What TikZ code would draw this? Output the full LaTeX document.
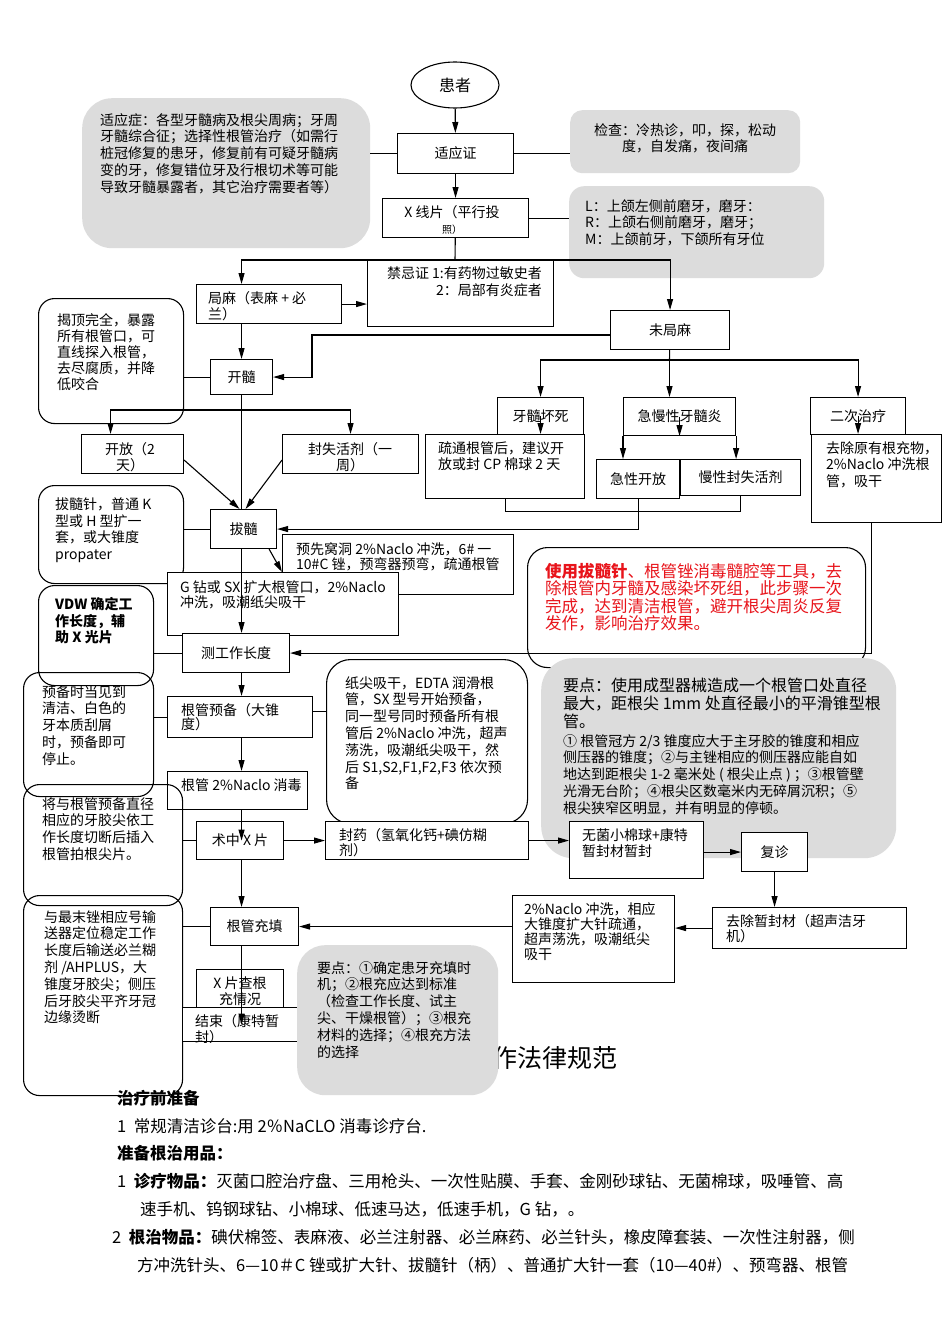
\documentclass[tikz,border=0pt]{standalone}
\usepackage{fontspec}
\setmainfont{Noto Sans CJK SC}
\usepackage{tikz}
\usetikzlibrary{arrows.meta,shapes.geometric,calc}
\definecolor{lgray}{HTML}{DCDCDC}
\definecolor{rtext}{HTML}{E8141B}
\tikzset{
 fbox/.style={draw=black,line width=1.1pt,fill=white,inner sep=0pt,anchor=north west,
   font=\fontsize{14}{16.8}\selectfont},
 rbox/.style={draw=black,line width=1.1pt,rounded corners=16pt,inner sep=0pt,anchor=north west},
 gbox/.style={fill=lgray,rounded corners=22pt,inner sep=0pt,anchor=north west},
 txt/.style={anchor=north west,align=left,inner sep=0pt,font=\fontsize{14}{16.8}\selectfont},
 arr/.style={-{Triangle[length=11pt,width=6pt]},line width=1.1pt},
 ln/.style={line width=1.1pt}
}
\begin{document}
\begin{tikzpicture}[x=1pt,y=-1pt]
 \fill[white] (0,0) rectangle (950,1344);
 \useasboundingbox (0,0) rectangle (950,1344);
 \node[anchor=west,inner sep=0pt,font=\fontsize{25}{25}\selectfont] (title) at (492,1058) {作法律规范};
 \node[gbox,minimum width=288pt,minimum height=150pt,rounded corners=30pt] (syzl) at (82,98) {};
 \node[txt] (syzl-t) at (100,113) {适应症：各型牙髓病及根尖周病；牙周\\牙髓综合征；选择性根管治疗（如需行\\桩冠修复的患牙，修复前有可疑牙髓病\\变的牙，修复错位牙及行根切术等可能\\导致牙髓暴露者，其它治疗需要者等）};
 \node[gbox,minimum width=230pt,minimum height=63pt,rounded corners=12pt] (jc) at (570,110) {};
 \node[txt,anchor=north,align=center] (jc-t) at (685,123) {检查：冷热诊，叩，探，松动\\度，自发痛，夜间痛};
 \node[gbox,minimum width=255pt,minimum height=92pt,rounded corners=15pt] (lrm) at (569,186) {};
 \node[txt] (lrm-t) at (585,199) {L：上颌左侧前磨牙，磨牙：\\R：上颌右侧前磨牙，磨牙；\\M：上颌前牙，下颌所有牙位};
 \node[draw,ellipse,line width=1.1pt,minimum width=88pt,minimum height=46pt,font=\fontsize{16}{16}\selectfont] (hz) at (455,85) {患者};
 \node[fbox,minimum width=116pt,minimum height=40pt] (syz) at (397,133) {适应证};
 \node[fbox,minimum width=146pt,minimum height=39pt] (xp) at (382,198) {};
 \node[txt,anchor=north,align=center] (xp-t) at (452,205) {X 线片（平行投\\{\fontsize{10}{10}\selectfont 照）}};
 \node[fbox,minimum width=186pt,minimum height=66pt] (jjz) at (367,260) {};
 \node[txt,anchor=north east,align=right] (jjz-t) at (542,267) {禁忌证 1:有药物过敏史者\\2：局部有炎症者};
 \node[fbox,minimum width=145pt,minimum height=39pt] (jm) at (196,284) {};
 \node[txt] (jm-t) at (208,291) {局麻（表麻 + 必\\兰）};
 \node[fbox,minimum width=62pt,minimum height=35pt] (ks) at (210,359) {开髓};
 \node[rbox,minimum width=145pt,minimum height=125pt] (jd) at (38,298) {};
 \node[txt,font=\fontsize{14}{16}\selectfont] (jd-t) at (57,313) {揭顶完全，暴露\\所有根管口，可\\直线探入根管，\\去尽腐质，并降\\低咬合};
 \node[fbox,minimum width=119pt,minimum height=39pt] (wjm) at (610,310) {未局麻};
 \node[fbox,minimum width=86pt,minimum height=37pt] (ysh) at (497,397) {牙髓坏死};
 \node[fbox,minimum width=159pt,minimum height=64pt] (st) at (425,434) {};
 \node[txt] (st-t) at (438,441) {疏通根管后，建议开\\放或封 CP 棉球 2 天};
 \node[fbox,minimum width=112pt,minimum height=38pt] (jmx) at (623,397) {急慢性牙髓炎};
 \node[fbox,minimum width=83pt,minimum height=39pt] (jxkf) at (596,459) {急性开放};
 \node[fbox,minimum width=120pt,minimum height=36pt] (mxfs) at (680,459) {慢性封失活剂};
 \node[fbox,minimum width=95pt,minimum height=37pt] (ecz) at (810,397) {二次治疗};
 \node[fbox,minimum width=130pt,minimum height=88pt] (qc) at (811,434) {};
 \node[txt] (qc-t) at (826,441) {去除原有根充物，\\2\%Naclo 冲洗根\\管，吸干};
 \node[fbox,minimum width=102pt,minimum height=39pt] (kf) at (81,434) {};
 \node[txt,anchor=north,align=center] (kf-t) at (130,442) {开放（2\\天）};
 \node[fbox,minimum width=136pt,minimum height=39pt] (fsh) at (282,434) {};
 \node[txt,anchor=north,align=center] (fsh-t) at (350,442) {封失活剂（一\\周）};
 \node[fbox,minimum width=66pt,minimum height=39pt] (bs) at (210,509) {拔髓};
 \node[rbox,minimum width=145pt,minimum height=98pt] (bsz) at (38,485) {};
 \node[txt,font=\fontsize{14}{16.5}\selectfont] (bsz-t) at (55,498) {拔髓针，普通 K\\型或 H 型扩一\\套，或大锥度\\propater};
 \node[fbox,minimum width=231pt,minimum height=60pt] (yx) at (282,534) {};
 \node[txt,font=\fontsize{14}{15.5}\selectfont] (yx-t) at (296,542) {预先窝洞 2\%Naclo 冲洗，6\# 一\\10\#C 锉，预弯器预弯，疏通根管};
 \node[fbox,minimum width=231pt,minimum height=63pt] (gz) at (167,572) {};
 \node[txt,font=\fontsize{14}{15.5}\selectfont] (gz-t) at (180,580) {G 钻或 SX 扩大根管口，2\%Naclo\\冲洗，吸潮纸尖吸干};
 \node[rbox,minimum width=115pt,minimum height=100pt] (vdw) at (38,585) {};
 \node[txt,font=\fontsize{14}{16.8}\selectfont\bfseries] (vdw-t) at (55,597) {VDW 确定工\\作长度，辅\\助 X 光片};
 \node[fbox,minimum width=107pt,minimum height=39pt] (cd) at (182,633) {测工作长度};
 \node[rbox,minimum width=338pt,minimum height=120pt,rounded corners=20pt] (hs) at (527,547) {};
 \node[txt,font=\fontsize{16.5}{17.4}\selectfont,text=rtext] (hs-t) at (545,563) {\textbf{使用拔髓针}、根管锉消毒髓腔等工具，去\\除根管内牙髓及感染坏死组，此步骤一次\\完成，达到清洁根管，避开根尖周炎反复\\发作，影响治疗效果。};
 \node[gbox,minimum width=355pt,minimum height=200pt,rounded corners=32pt] (yd) at (541,658) {};
 \node[txt,font=\fontsize{16}{18}\selectfont] (yd-t1) at (563,678) {要点：使用成型器械造成一个根管口处直径\\最大，距根尖 1mm 处直径最小的平滑锥型根\\管。};
 \node[txt] (yd-t2) at (563,734) {① 根管冠方 2/3 锥度应大于主牙胶的锥度和相应\\侧压器的锥度；②与主锉相应的侧压器应能自如\\地达到距根尖 1-2 毫米处 ( 根尖止点 ) ；③根管壁\\光滑无台阶；④根尖区数毫米内无碎屑沉积；⑤\\根尖狭窄区明显，并有明显的停顿。};
 \node[rbox,minimum width=130pt,minimum height=124pt] (yb) at (23,672) {};
 \node[txt] (yb-t) at (42,685) {预备时当见到\\清洁、白色的\\牙本质刮屑\\时，预备即可\\停止。};
 \node[fbox,minimum width=145pt,minimum height=41pt] (gy) at (167,696) {};
 \node[txt,font=\fontsize{14}{14.5}\selectfont] (gy-t) at (181,703) {根管预备（大锥\\度）};
 \node[rbox,minimum width=201pt,minimum height=164pt,rounded corners=24pt] (zj) at (326,659) {};
 \node[txt] (zj-t) at (345,676) {纸尖吸干，EDTA 润滑根\\管，SX 型号开始预备，\\同一型号同时预备所有根\\管后 2\%Naclo 冲洗，超声\\荡洗，吸潮纸尖吸干，然\\后 S1,S2,F1,F2,F3 依次预\\备};
 \node[fbox,minimum width=140pt,minimum height=38pt] (xd) at (167,771) {};
 \node[txt,anchor=west] (xd-t) at (181,785) {根管 2\%Naclo 消毒};
 \node[rbox,minimum width=159pt,minimum height=121pt] (jy) at (23,784) {};
 \node[txt] (jy-t) at (42,797) {将与根管预备直径\\相应的牙胶尖依工\\作长度切断后插入\\根管拍根尖片。};
 \node[fbox,minimum width=87pt,minimum height=38pt] (sz) at (196,821) {术中 X 片};
 \node[fbox,minimum width=203pt,minimum height=38pt] (fy) at (325,821) {};
 \node[txt,font=\fontsize{14}{15}\selectfont] (fy-t) at (339,828) {封药（氢氧化钙+碘仿糊\\剂）};
 \node[fbox,minimum width=134pt,minimum height=57pt] (wj) at (569,821) {};
 \node[txt] (wj-t) at (582,828) {无菌小棉球+康特\\暂封材暂封};
 \node[fbox,minimum width=66pt,minimum height=39pt] (fz) at (741,832) {复诊};
 \node[fbox,minimum width=194pt,minimum height=41pt] (qz) at (712,907) {};
 \node[txt,font=\fontsize{14}{15.5}\selectfont] (qz-t) at (726,914) {去除暂封材（超声洁牙\\机）};
 \node[fbox,minimum width=162pt,minimum height=87pt] (nc) at (512,895) {};
 \node[txt,font=\fontsize{14}{15}\selectfont] (nc-t) at (524,902) {2\%Naclo 冲洗，相应\\大锥度扩大针疏通，\\超声荡洗，吸潮纸尖\\吸干};
 \node[fbox,minimum width=88pt,minimum height=38pt] (tc) at (210,907) {根管充填};
 \node[rbox,minimum width=159pt,minimum height=200pt] (yz) at (23,895) {};
 \node[txt] (yz-t) at (44,910) {与最末锉相应号输\\送器定位稳定工作\\长度后输送必兰糊\\剂 /AHPLUS，大\\锥度牙胶尖；侧压\\后牙胶尖平齐牙冠\\边缘烫断};
 \node[fbox,minimum width=87pt,minimum height=43pt] (xc) at (196,969) {};
 \node[txt,anchor=north,align=center,font=\fontsize{14}{15.5}\selectfont] (xc-t) at (240,977) {X 片查根\\充情况};
 \node[fbox,minimum width=140pt,minimum height=34pt] (js) at (182,1007) {};
 \begin{scope}
  \clip (js.north west) rectangle (js.south east);
  \node[txt] (js-t) at (195,1014) {结束（康特暂\\封）};
 \end{scope}
 \node[gbox,minimum width=201pt,minimum height=150pt,rounded corners=28pt] (yd2) at (297,945) {};
 \node[txt] (yd2-t) at (317,961) {要点：①确定患牙充填时\\机；②根充应达到标准\\（检查工作长度、试主\\尖、干燥根管）；③根充\\材料的选择；④根充方法\\的选择};
 \begin{scope}[every node/.style={anchor=west,inner sep=0pt,font=\fontsize{16.5}{16.5}\selectfont}]
  \node (bt1) at (117,1098) {\textbf{治疗前准备}};
  \node (bt2) at (117,1126) {1\ \ 常规清洁诊台:用 2％NaCLO 消毒诊疗台.};
  \node (bt3) at (117,1153) {\textbf{准备根治用品：}};
  \node (bt4) at (117,1181) {1\ \ \textbf{诊疗物品：}灭菌口腔治疗盘、三用枪头、一次性贴膜、手套、金刚砂球钻、无菌棉球，吸唾管、高};
  \node (bt5) at (140,1209) {速手机、钨钢球钻、小棉球、低速马达，低速手机，G 钻，。};
  \node (bt6) at (112,1237) {2\ \ \textbf{根治物品：}碘伏棉签、表麻液、必兰注射器、必兰麻药、必兰针头，橡皮障套装、一次性注射器，侧};
  \node (bt7) at (137,1265) {方冲洗针头、6—10＃C 锉或扩大针、拔髓针（柄）、普通扩大针一套（10—40\#）、预弯器、根管};
 \end{scope}
 \coordinate (b1) at (455,260);
 \coordinate (b2) at (312,335);
 \coordinate (b3) at (669.5,360);
 \coordinate (b4) at (241,410);
 \draw[arr] (hz) -- (syz);
 \draw[ln] (syz.west) -- (syz.west -| syzl.east);
 \draw[ln] (syz.east) -- (syz.east -| jc.west);
 \draw[arr] (syz) -- (xp);
 \draw[ln] (xp.east) -- (xp.east -| lrm.west);
 \draw[ln] (xp) -- (b1);
 \draw[arr] (b1) -| (ks |- jm.north);
 \draw[arr] (b1) -| (wjm.north);
 \draw[arr] (jm.east) -- (jm.east -| jjz.west);
 \draw[arr] (ks |- jm.south) -- (ks.north);
 \draw[ln] (ks.west) -- (ks.west -| jd.east);
 \draw[arr] (wjm.west |- b2) -- (b2) |- (ks.east);
 \draw[ln] (wjm) -- (b3);
 \draw[arr] (b3) -| (ysh.north);
 \draw[arr] (b3) -| (ecz.north);
 \draw[arr] (b3) -- (b3 |- jmx.north);
 \draw[arr] (ysh.center) -- (ysh.center |- st.north);
 \draw[arr] (jmx.center) -- (jmx.south);
 \draw[arr] (jmx.south west) -- (jmx.south west |- jxkf.north);
 \draw[arr] (jmx.south east) -- (jmx.south east |- mxfs.north);
 \draw[arr] (ecz.center) -- (ecz.center |- qc.north);
 \draw[ln] (st.south) -- ++(0,12) -| (mxfs.south);
 \draw[arr] (jxkf.south) |- (bs.east);
 \draw[ln] (ks.south) -- (ks.south |- bs.north);
 \draw[arr] (b4) -| ([xshift=-22pt]kf.north);
 \draw[arr] (b4) -| (fsh.north);
 \draw[arr] ([yshift=-6pt]kf.east) -- ([xshift=-4pt]bs.north);
 \draw[arr] ([yshift=-6pt]fsh.west) -- ([xshift=2pt]bs.north);
 \draw[ln] (bs.west) -- (bs.west -| bsz.east);
 \draw[arr] (ks |- bs.south) -- (ks |- cd.north);
 \draw[arr] ([xshift=-8pt]bs.south east) -- (yx.west |- gz.north);
 \draw[ln] (cd.west) -- (cd.west -| vdw.east);
 \draw[arr] ([xshift=-5pt]qc.south) |- (cd.east);
 \draw[arr] (ks |- cd.south) -- (ks |- gy.north);
 \draw[ln] (gy.west) -- (gy.west -| yb.east);
 \draw[ln] ([yshift=6pt]gy.east) -- ([yshift=6pt]gy.east -| zj.west);
 \draw[arr] (ks |- gy.south) -- (ks |- xd.north);
 \draw[arr] (ks |- xd.south) -- (ks |- sz.center);
 \draw[ln] (sz.west) -- (sz.west -| jy.east);
 \draw[arr] (sz.east) -- (sz.east -| fy.west);
 \draw[arr] (fy.east) -- (fy.east -| wj.west);
 \draw[arr] (wj.east |- fz.west) -- (fz.west);
 \draw[arr] (fz.south) -- (fz.south |- qz.north);
 \draw[arr] (qz.west) -- (qz.west -| nc.east);
 \draw[arr] (nc.west |- tc.east) -- (tc.east);
 \draw[arr] (ks |- sz.south) -- (ks |- tc.north);
 \draw[ln] (tc.west) -- (tc.west -| yz.east);
 \draw[arr] (ks |- tc.south) -- (ks |- js.center);
\end{tikzpicture}
\end{document}
